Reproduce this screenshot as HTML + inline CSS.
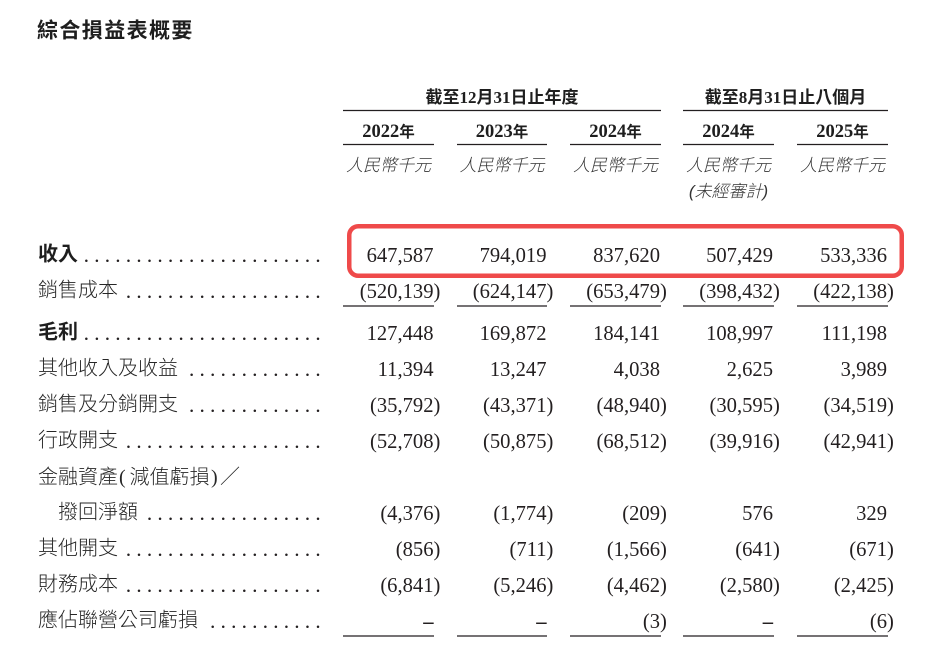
<!DOCTYPE html>
<html><head><meta charset="utf-8">
<style>
html,body{margin:0;padding:0;background:#fff;}
svg{display:block;}
.lab{font-family:"Liberation Serif","Noto Sans CJK TC",sans-serif;font-size:20px;fill:#262626;font-weight:300;}
.cjk{font-family:"Noto Sans CJK TC","Noto Sans CJK SC",sans-serif;}
.num{font-family:"Liberation Serif",serif;font-size:20.6px;fill:#231f20;}
.hd{font-family:"Liberation Serif","Noto Sans CJK TC",serif;font-weight:700;fill:#1e1e1e;}
.unit{font-family:"Liberation Sans","Noto Sans CJK TC",sans-serif;font-size:17px;font-style:italic;fill:#333;font-weight:300;}
.rule{stroke:#231f20;stroke-width:1.3;}
.dots{stroke:#231f20;stroke-width:2.5;stroke-linecap:round;stroke-dasharray:0 10.53;}
</style></head>
<body>
<svg width="936" height="657" viewBox="0 0 936 657" xmlns="http://www.w3.org/2000/svg">
<!-- Title -->
<text x="37" y="37.5" class="cjk" style="font-size:21px;font-weight:700;letter-spacing:1.4px;fill:#1e1e1e">綜合損益表概要</text>

<!-- Group headers -->
<text x="502" y="103" text-anchor="middle" class="hd" style="font-size:17px">截至12月31日止年度</text>
<text x="785.5" y="103" text-anchor="middle" class="hd" style="font-size:17px">截至8月31日止八個月</text>
<line x1="343" y1="110.5" x2="661" y2="110.5" class="rule"/>
<line x1="683" y1="110.5" x2="888" y2="110.5" class="rule"/>

<!-- Years -->
<g class="hd">
<text x="388.5" y="137" text-anchor="middle"><tspan style="font-size:18.5px">2022</tspan><tspan style="font-size:15.5px" font-family="Noto Sans CJK TC">年</tspan></text>
<text x="502" y="137" text-anchor="middle"><tspan style="font-size:18.5px">2023</tspan><tspan style="font-size:15.5px" font-family="Noto Sans CJK TC">年</tspan></text>
<text x="615.5" y="137" text-anchor="middle"><tspan style="font-size:18.5px">2024</tspan><tspan style="font-size:15.5px" font-family="Noto Sans CJK TC">年</tspan></text>
<text x="728.5" y="137" text-anchor="middle"><tspan style="font-size:18.5px">2024</tspan><tspan style="font-size:15.5px" font-family="Noto Sans CJK TC">年</tspan></text>
<text x="842.5" y="137" text-anchor="middle"><tspan style="font-size:18.5px">2025</tspan><tspan style="font-size:15.5px" font-family="Noto Sans CJK TC">年</tspan></text>
</g>
<line x1="343" y1="144.5" x2="434" y2="144.5" class="rule"/>
<line x1="457" y1="144.5" x2="547" y2="144.5" class="rule"/>
<line x1="570" y1="144.5" x2="661" y2="144.5" class="rule"/>
<line x1="683" y1="144.5" x2="774" y2="144.5" class="rule"/>
<line x1="797" y1="144.5" x2="888" y2="144.5" class="rule"/>

<!-- Units -->
<text x="388.5" y="171" text-anchor="middle" class="unit">人民幣千元</text>
<text x="502" y="171" text-anchor="middle" class="unit">人民幣千元</text>
<text x="615.5" y="171" text-anchor="middle" class="unit">人民幣千元</text>
<text x="728.5" y="171" text-anchor="middle" class="unit">人民幣千元</text>
<text x="842.5" y="171" text-anchor="middle" class="unit">人民幣千元</text>
<text x="728.5" y="197" text-anchor="middle" class="unit">(未經審計)</text>

<!-- Red highlight box -->
<rect x="349.25" y="226.25" width="552.5" height="49.5" rx="9" ry="9" fill="none" stroke="#ef4a4a" stroke-width="4.5"/>

<!-- Labels -->
<g class="lab">
<text x="38" y="260.5" style="font-weight:700;fill:#1e1e1e">收入</text>
<text x="38" y="296.5">銷售成本</text>
<text x="38" y="338.5" style="font-weight:700;fill:#1e1e1e">毛利</text>
<text x="38" y="374.5">其他收入及收益</text>
<text x="38" y="410.5">銷售及分銷開支</text>
<text x="38" y="446.5">行政開支</text>
<text x="38" y="483.5">金融資產</text>
<text x="119" y="483.5" style="font-size:20px">(</text>
<text x="129.5" y="483.5">減值虧損</text>
<text x="211" y="483.5" style="font-size:20px">)</text>
<text x="220" y="483.5">／</text>
<text x="58" y="518.5">撥回淨額</text>
<text x="38" y="554.5">其他開支</text>
<text x="38" y="590.5">財務成本</text>
<text x="38" y="626.5">應佔聯營公司虧損</text>
</g>

<!-- Dot leaders -->
<line x1="318" y1="260.7" x2="86" y2="260.7" class="dots"/>
<line x1="318" y1="296.7" x2="118" y2="296.7" class="dots"/>
<line x1="318" y1="338.7" x2="86" y2="338.7" class="dots"/>
<line x1="318" y1="374.7" x2="183" y2="374.7" class="dots"/>
<line x1="318" y1="410.7" x2="185" y2="410.7" class="dots"/>
<line x1="318" y1="446.7" x2="118" y2="446.7" class="dots"/>
<line x1="318" y1="518.7" x2="141" y2="518.7" class="dots"/>
<line x1="318" y1="554.7" x2="118" y2="554.7" class="dots"/>
<line x1="318" y1="590.7" x2="118" y2="590.7" class="dots"/>
<line x1="318" y1="626.7" x2="206" y2="626.7" class="dots"/>

<!-- Numbers -->
<g class="num">
<text x="433.5" y="262" text-anchor="end">647,587</text>
<text x="546.5" y="262" text-anchor="end">794,019</text>
<text x="660" y="262" text-anchor="end">837,620</text>
<text x="773" y="262" text-anchor="end">507,429</text>
<text x="887" y="262" text-anchor="end">533,336</text>

<text x="440.4" y="298" text-anchor="end">(520,139)</text>
<text x="553.4" y="298" text-anchor="end">(624,147)</text>
<text x="666.9" y="298" text-anchor="end">(653,479)</text>
<text x="779.9" y="298" text-anchor="end">(398,432)</text>
<text x="893.9" y="298" text-anchor="end">(422,138)</text>

<text x="433.5" y="340" text-anchor="end">127,448</text>
<text x="546.5" y="340" text-anchor="end">169,872</text>
<text x="660" y="340" text-anchor="end">184,141</text>
<text x="773" y="340" text-anchor="end">108,997</text>
<text x="887" y="340" text-anchor="end">111,198</text>

<text x="433.5" y="376" text-anchor="end">11,394</text>
<text x="546.5" y="376" text-anchor="end">13,247</text>
<text x="660" y="376" text-anchor="end">4,038</text>
<text x="773" y="376" text-anchor="end">2,625</text>
<text x="887" y="376" text-anchor="end">3,989</text>

<text x="440.4" y="412" text-anchor="end">(35,792)</text>
<text x="553.4" y="412" text-anchor="end">(43,371)</text>
<text x="666.9" y="412" text-anchor="end">(48,940)</text>
<text x="779.9" y="412" text-anchor="end">(30,595)</text>
<text x="893.9" y="412" text-anchor="end">(34,519)</text>

<text x="440.4" y="448" text-anchor="end">(52,708)</text>
<text x="553.4" y="448" text-anchor="end">(50,875)</text>
<text x="666.9" y="448" text-anchor="end">(68,512)</text>
<text x="779.9" y="448" text-anchor="end">(39,916)</text>
<text x="893.9" y="448" text-anchor="end">(42,941)</text>

<text x="440.4" y="520" text-anchor="end">(4,376)</text>
<text x="553.4" y="520" text-anchor="end">(1,774)</text>
<text x="666.9" y="520" text-anchor="end">(209)</text>
<text x="773" y="520" text-anchor="end">576</text>
<text x="887" y="520" text-anchor="end">329</text>

<text x="440.4" y="556" text-anchor="end">(856)</text>
<text x="553.4" y="556" text-anchor="end">(711)</text>
<text x="666.9" y="556" text-anchor="end">(1,566)</text>
<text x="779.9" y="556" text-anchor="end">(641)</text>
<text x="893.9" y="556" text-anchor="end">(671)</text>

<text x="440.4" y="592" text-anchor="end">(6,841)</text>
<text x="553.4" y="592" text-anchor="end">(5,246)</text>
<text x="666.9" y="592" text-anchor="end">(4,462)</text>
<text x="779.9" y="592" text-anchor="end">(2,580)</text>
<text x="893.9" y="592" text-anchor="end">(2,425)</text>

<text x="433.5" y="628" text-anchor="end" style="font-weight:700">–</text>
<text x="546.5" y="628" text-anchor="end" style="font-weight:700">–</text>
<text x="666.9" y="628" text-anchor="end">(3)</text>
<text x="773" y="628" text-anchor="end" style="font-weight:700">–</text>
<text x="893.9" y="628" text-anchor="end">(6)</text>
</g>

<!-- Subtotal rules -->
<line x1="343" y1="306" x2="434" y2="306" class="rule"/>
<line x1="457" y1="306" x2="547" y2="306" class="rule"/>
<line x1="570" y1="306" x2="661" y2="306" class="rule"/>
<line x1="683" y1="306" x2="774" y2="306" class="rule"/>
<line x1="797" y1="306" x2="888" y2="306" class="rule"/>

<line x1="343" y1="636" x2="434" y2="636" class="rule"/>
<line x1="457" y1="636" x2="547" y2="636" class="rule"/>
<line x1="570" y1="636" x2="661" y2="636" class="rule"/>
<line x1="683" y1="636" x2="774" y2="636" class="rule"/>
<line x1="797" y1="636" x2="888" y2="636" class="rule"/>
</svg>
</body></html>
